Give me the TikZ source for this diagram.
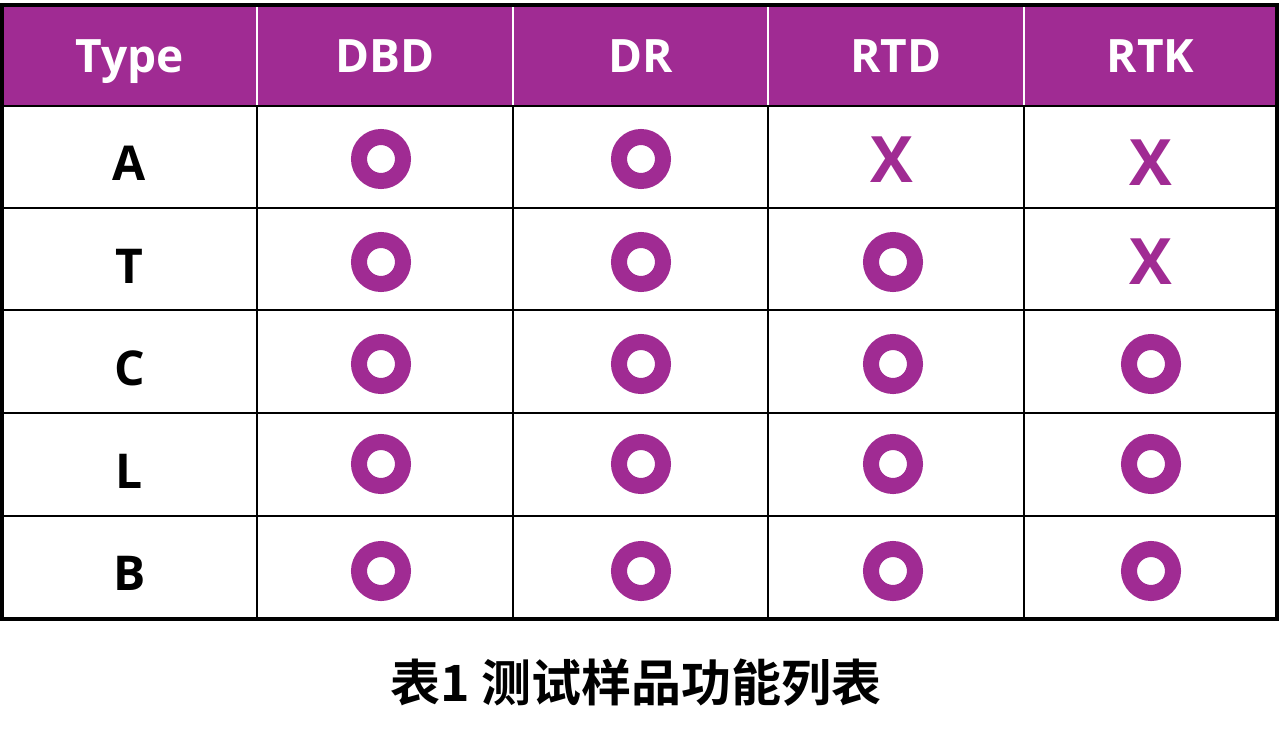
\documentclass[tikz,border=0pt]{standalone}
\usepackage{fontspec}
\setmainfont{Open Sans}
\newfontfamily\cjkbold{Noto Sans CJK SC}[BoldFont={* Bold}]
\definecolor{tabpurple}{RGB}{160,43,147}
\begin{document}
\begin{tikzpicture}[x=1pt,y=-1pt,
  hdr/.style={anchor=base,text=white,font=\fontsize{46}{50}\selectfont\bfseries},
  rowlab/.style={anchor=base,text=black,font=\fontsize{48}{52}\selectfont\bfseries},
  yes/.style={circle,draw=tabpurple,line width=16pt,minimum size=44pt,inner sep=0pt},
  no/.style={anchor=base,text=tabpurple,font=\fontsize{64}{68}\selectfont\bfseries},
  outer/.style={draw=black,line width=3.5pt},
  inner/.style={draw=black,line width=2.5pt},
  hsep/.style={draw=white,line width=2.5pt}]
\useasboundingbox (0,0) rectangle (1280,740);
\fill[white] (0,0) rectangle (1280,740);
% header
\fill[tabpurple] (2,5) rectangle (1277,106);
\foreach \x in {257,513,768,1024} \draw[hsep] (\x,5) -- (\x,105);
% grid
\foreach \y in {208,310,413,516} \draw[inner] (2,\y) -- (1277,\y);
\foreach \x in {257,513,768,1024} \draw[inner] (\x,106) -- (\x,619);
\draw[inner] (2,106) -- (1277,106);
\draw[outer] (2,5) rectangle (1277,619);
% header texts
\node[hdr] (hType) at (129.5,72) {Type};
\node[hdr] (hDBD) at (385,72) {DBD};
\node[hdr] (hDR) at (640.5,72) {DR};
\node[hdr] (hRTD) at (896,72) {RTD};
\node[hdr] (hRTK) at (1150.5,72) {RTK};
% row labels
\node[rowlab] (rA) at (129.5,180) {A};
\node[rowlab] (rT) at (129.5,283) {T};
\node[rowlab] (rC) at (129.5,385) {C};
\node[rowlab] (rL) at (129.5,488) {L};
\node[rowlab] (rB) at (129.5,590) {B};
% row A
\node[yes] (a1) at (381,159) {};
\node[yes] (a2) at (641,159) {};
\node[no] (a3) at (892,182) {X};
\node[no] (a4) at (1151,185) {X};
% row T
\node[yes] (t1) at (381,262) {};
\node[yes] (t2) at (641,262) {};
\node[yes] (t3) at (893,262) {};
\node[no] (t4) at (1151,284) {X};
% row C
\node[yes] (c1) at (381,364) {};
\node[yes] (c2) at (641,364) {};
\node[yes] (c3) at (893,364) {};
\node[yes] (c4) at (1151,364) {};
% row L
\node[yes] (l1) at (381,464) {};
\node[yes] (l2) at (641,464) {};
\node[yes] (l3) at (893,464) {};
\node[yes] (l4) at (1151,464) {};
% row B
\node[yes] (b1) at (381,571) {};
\node[yes] (b2) at (641,571) {};
\node[yes] (b3) at (893,571) {};
\node[yes] (b4) at (1151,571) {};
% caption
\node[font=\cjkbold\fontsize{50}{54}\selectfont\bfseries] (cap) at (636,683) {表1 测试样品功能列表};
\end{tikzpicture}
\end{document}
